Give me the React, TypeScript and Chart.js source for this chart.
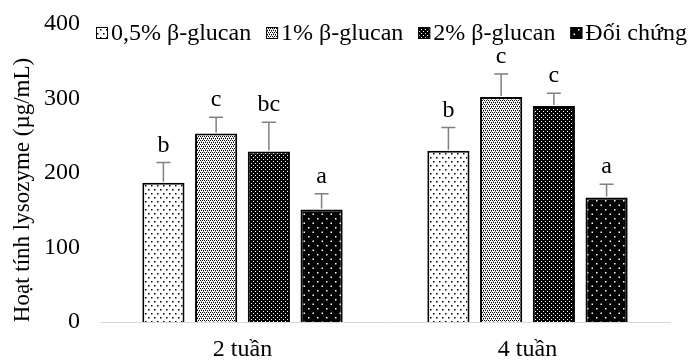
import React, { useEffect, useRef } from 'react';
import { Chart, registerables } from 'chart.js';

Chart.register(...registerables);

const categories = ['2 tuần', '4 tuần'];
const seriesNames = ['0,5% β-glucan', '1% β-glucan', '2% β-glucan', 'Đối chứng'];
const values05 = [187, 230];
const values1 = [253, 302];
const values2 = [229, 290];
const valuesCtrl = [151, 167];
const err05 = [27, 31];
const err1 = [22, 31];
const err2 = [39, 17];
const errCtrl = [21, 18];
const letters05 = ['b', 'b'];
const letters1 = ['c', 'c'];
const letters2 = ['bc', 'c'];
const lettersCtrl = ['a', 'a'];
const yTickValues = [0, 100, 200, 300, 400];
const yTitle = 'Hoạt tính lysozyme (µg/mL)';

const FONT = "'Liberation Serif', 'Times New Roman', serif";

function makePattern(kind: string): CanvasPattern | string {
  const c = document.createElement('canvas');
  let w = 6, h = 6;
  if (kind === 'sparse') { w = 6; h = 8; }
  if (kind === 'grid') { w = 4; h = 4; }
  if (kind === 'dense') { w = 4; h = 4; }
  if (kind === 'dark') { w = 9; h = 9; }
  c.width = w; c.height = h;
  const g = c.getContext('2d')!;
  if (kind === 'sparse') {
    g.fillStyle = '#ffffff'; g.fillRect(0, 0, w, h);
    g.fillStyle = '#000000';
    g.fillRect(1, 1, 1.5, 1.5);
    g.fillRect(4, 5, 1.5, 1.5);
  } else if (kind === 'grid') {
    g.fillStyle = '#ffffff'; g.fillRect(0, 0, w, h);
    g.fillStyle = '#000000';
    g.fillRect(0, 0, 1, 1);
    g.fillRect(2, 0, 1, 1);
    g.fillRect(1, 2, 1, 1);
    g.fillRect(3, 2, 1, 1);
    g.fillStyle = '#808080';
    g.fillRect(1, 1, 1, 1);
    g.fillRect(3, 3, 1, 1);
  } else if (kind === 'dense') {
    g.fillStyle = '#000000'; g.fillRect(0, 0, w, h);
    g.fillStyle = '#ffffff';
    g.fillRect(1, 1, 1, 1);
    g.fillRect(3, 3, 1, 1);
  } else {
    g.fillStyle = '#000000'; g.fillRect(0, 0, w, h);
    g.fillStyle = '#ffffff';
    g.fillRect(2, 2, 1.5, 1.5);
    g.fillRect(6.5, 6.5, 1.5, 1.5);
  }
  const main = document.createElement('canvas').getContext('2d')!;
  return main.createPattern(c, 'repeat') || '#888';
}

export default function App() {
  const ref = useRef<HTMLCanvasElement | null>(null);

  useEffect(() => {
    const canvas = ref.current!;
    const patterns = [makePattern('sparse'), makePattern('grid'), makePattern('dense'), makePattern('dark')];
    const values = [values05, values1, values2, valuesCtrl];
    const errors = [err05, err1, err2, errCtrl];
    const letters = [letters05, letters1, letters2, lettersCtrl];

    const extras = {
      id: 'extras',
      afterDatasetsDraw(chart: any) {
        const ctx = chart.ctx;
        const yScale = chart.scales.y;
        ctx.save();
        for (let i = 0; i < values.length; i++) {
          const meta = chart.getDatasetMeta(i);
          meta.data.forEach((el: any, j: number) => {
            const x = el.x;
            const top = yScale.getPixelForValue(values[i][j] + errors[i][j]);
            ctx.strokeStyle = '#808080';
            ctx.lineWidth = 1.5;
            ctx.beginPath();
            ctx.moveTo(x, el.y - 1);
            ctx.lineTo(x, top);
            ctx.moveTo(x - 7, top);
            ctx.lineTo(x + 7, top);
            ctx.stroke();
            ctx.fillStyle = '#000';
            ctx.font = `24px ${FONT}`;
            ctx.textAlign = 'center';
            ctx.textBaseline = 'alphabetic';
            ctx.fillText(letters[i][j], x, top - 11);
          });
        }
        ctx.restore();
      },
      afterDraw(chart: any) {
        const ctx = chart.ctx;
        ctx.save();
        ctx.font = `23px ${FONT}`;
        ctx.fillStyle = '#000';
        ctx.translate(23, 190);
        ctx.rotate(-Math.PI / 2);
        ctx.textAlign = 'center';
        ctx.textBaseline = 'middle';
        ctx.fillText(yTitle, 0, 0);
        ctx.restore();

        ctx.save();
        ctx.font = `24px ${FONT}`;
        const box = 12;
        const gapBoxText = 3;
        const startX = 96;
        const endX = 687;
        const widths = seriesNames.map((s) => ctx.measureText(s).width);
        const used = widths.reduce((a, b) => a + b + box + gapBoxText, 0);
        const gapItems = Math.max(4, (endX - startX - used) / (seriesNames.length - 1));
        let x = startX;
        const cy = 33;
        seriesNames.forEach((s, i) => {
          ctx.fillStyle = patterns[i] as any;
          ctx.fillRect(x, cy - box / 2, box, box);
          ctx.strokeStyle = '#000';
          ctx.lineWidth = 1;
          ctx.strokeRect(x + 0.5, cy - box / 2 + 0.5, box - 1, box - 1);
          ctx.fillStyle = '#000';
          ctx.textAlign = 'left';
          ctx.textBaseline = 'middle';
          ctx.fillText(s, x + box + gapBoxText, cy + 1);
          x += box + gapBoxText + widths[i] + gapItems;
        });
        ctx.restore();
      },
    };

    const chart = new Chart(canvas, {
      type: 'bar',
      data: {
        labels: categories,
        datasets: seriesNames.map((name, i) => ({
          label: name,
          data: values[i],
          backgroundColor: patterns[i] as any,
          borderColor: '#000000',
          borderWidth: 2,
          categoryPercentage: 0.74,
          barPercentage: 0.8,
        })),
      },
      options: {
        responsive: false,
        animation: false,
        devicePixelRatio: 1,
        layout: { padding: { top: 24, right: 18, left: 0, bottom: 0 } },
        plugins: {
          legend: { display: false },
          tooltip: { enabled: false },
        },
        scales: {
          x: {
            grid: { display: false },
            border: { display: true, color: '#d9d9d9', width: 1 },
            ticks: { color: '#000', font: { family: FONT, size: 24 }, padding: 5 },
            afterFit: (s: any) => { s.height = 38; },
          },
          y: {
            min: 0,
            max: 400,
            afterBuildTicks: (s: any) => { s.ticks = yTickValues.map((v) => ({ value: v })); },
            grid: { display: false, drawTicks: false },
            border: { display: false },
            ticks: { color: '#000', font: { family: FONT, size: 24 }, padding: 20 },
            title: { display: false },
            afterFit: (s: any) => { s.width = 100; s.paddingTop = 0; s.paddingBottom = 0; },
          },
        },
      },
      plugins: [extras],
    });
    return () => chart.destroy();
  }, []);

  return (
    <canvas
      ref={ref}
      width={688}
      height={360}
      style={{ position: 'fixed', left: 0, top: 0, width: 688, height: 360, background: '#fff' }}
    />
  );
}
